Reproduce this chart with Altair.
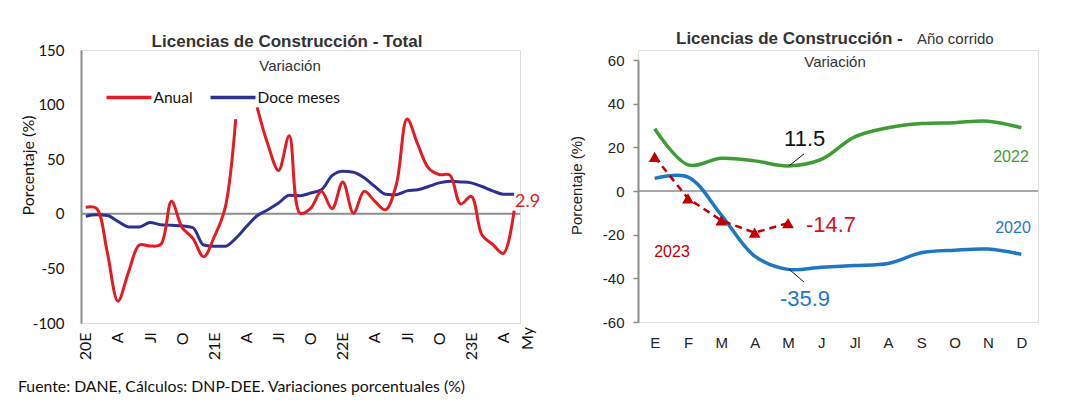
import altair as alt
import pandas as pd

# ---------------- Left panel data (monthly, Jan-2020 .. May-2023) ----------------
anual = [6, 5, -35, -80, -53, -28.6, -29.5, -28, 11.4, -12.6, -22.5, -39.4, -21, 5, 86.8,
         None, 97.5, 63.7, 39.7, 71.4, 0.6, 5, 20.6, 4.6, 29.2, 0.6, 20.6, 11.4, 3.7, 26.8,
         86.8, 63.7, 42, 36, 35.4, 9, 16, -19.4, -28, -36.3, 2.9]
doce_meses = [-2.2, -0.9, -1.5, -7, -12, -12, -8, -10, -10.5, -11, -12.6, -28.6, -29.8, -29.8,
              -22.5, -11.7, -1.8, 3.7, 9.8, 16.9, 16.6, 19, 22, 35, 39, 38, 33, 25, 18, 17.5,
              21, 22, 25, 28.3, 29.8, 29.2, 28.3, 25, 21, 18, 18]
left_tick_labels = ["20E", "A", "Jl", "O", "21E", "A", "Jl", "O", "22E", "A", "Jl", "O", "23E", "A"]
series_names = ["Anual", "Doce meses"]

# ---------------- Right panel data (año corrido) ----------------
month_labels = ["E", "F", "M", "A", "M", "J", "Jl", "A", "S", "O", "N", "D"]
y2022 = [28.5, 12, 15, 13.8, 11.5, 14.5, 24.8, 29, 30.9, 31.3, 32, 29]
y2020 = [5.8, 6.4, -11, -29.8, -35.9, -34.9, -34.1, -33.2, -28.3, -27.1, -26.6, -29]
y2023 = [15.6, -3.4, -13.5, -19.1, -14.7]

RED = "#e31b23"
NAVY = "#2e3192"
GREEN = "#3f9c35"
BLUE = "#1f77c4"
DRED = "#c00000"
GRAY = "#8c8c8c"

# ---------------- build tables ----------------
red_rows = []
for i, v in enumerate(anual):
    if v is None:
        continue
    red_rows.append({"m": i, "v": v, "serie": "Anual", "seg": "a" if i < 15 else "b"})
df_red = pd.DataFrame(red_rows)
df_blue = pd.DataFrame({"m": list(range(len(doce_meses))), "v": doce_meses, "serie": "Doce meses"})

W1, H1 = 439, 273
lab_expr = "[" + ",".join("'%s'" % s for s in left_tick_labels) + "][round(datum.value/3)]"

lx = alt.X("m:Q", scale=alt.Scale(domain=[-0.45, 40.55], nice=False, zero=False),
           axis=alt.Axis(values=list(range(0, 40, 3)), labelExpr=lab_expr, labelAngle=270,
                         labelAlign="right", labelBaseline="middle", labelPadding=9,
                         ticks=False, tickSize=0, domain=False, grid=False, labelOverlap=False,
                         labelFont="Lato", labelFontSize=16, labelColor="#111", title=None))
ly = alt.Y("v:Q", scale=alt.Scale(domain=[-100, 150], nice=False),
           axis=alt.Axis(values=[-100, -50, 0, 50, 100, 150], ticks=False, tickSize=0,
                         labelExpr="'' + datum.value", labelOverlap=False,
                         domainColor=GRAY, domainWidth=2, grid=False, labelFont="Lato",
                         labelFontSize=15, labelColor="#111", labelPadding=17,
                         title="Porcentaje (%)", titleFont="Lato", titleFontSize=16,
                         titleFontWeight="normal", titleColor="#111", titleX=-53, titleY=115,
                         titleAngle=270, titleBaseline="middle", titleAlign="center"))
color = alt.Color("serie:N", scale=alt.Scale(domain=series_names, range=[RED, NAVY]),
                  legend=alt.Legend(orient="none", legendX=23.5, legendY=23, direction="horizontal",
                                    title=None, symbolType="stroke", symbolSize=2025,
                                    symbolStrokeWidth=3.5, labelFont="Lato", labelFontSize=15.5,
                                    labelColor="#111", labelOffset=0, columnPadding=10, padding=0))

zero_l = alt.Chart(pd.DataFrame({"m": [0], "v": [0]})).mark_rule(color=GRAY, strokeWidth=2).encode(y=ly)
blue_line = alt.Chart(df_blue).mark_line(interpolate="monotone", strokeWidth=3).encode(x=lx, y=ly, color=color)
red_line = alt.Chart(df_red).mark_line(interpolate="catmull-rom", strokeWidth=3).encode(
    x=lx, y=ly, color=color, detail="seg:N")
last_lab = alt.Chart(pd.DataFrame({"m": [40], "v": [anual[-1]], "t": [str(anual[-1])]})).mark_text(
    align="left", baseline="middle", dx=1, dy=-9, font="Lato", fontSize=18, color=RED).encode(
    x=lx, y=ly, text="t:N")
my_lab = alt.Chart(pd.DataFrame({"m": [41.3], "t": ["My"]})).mark_text(
    angle=270, align="right", baseline="middle", font="Lato", fontSize=16, color="#111").encode(
    x=lx, y=alt.value(H1 + 4), text="t:N")
title_l = alt.Chart(pd.DataFrame({"t": ["Licencias de Construcción - Total"]})).mark_text(
    font="Liberation Sans", fontWeight="bold", fontSize=17, color="#333", baseline="alphabetic").encode(
    x=alt.value(206), y=alt.value(-3), text="t:N")
sub_l = alt.Chart(pd.DataFrame({"t": ["Variación"]})).mark_text(
    font="Liberation Sans", fontSize=15, color="#333", baseline="alphabetic").encode(
    x=alt.value(209), y=alt.value(20.5), text="t:N")
footer = alt.Chart(pd.DataFrame({"t": ["Fuente: DANE, Cálculos: DNP-DEE. Variaciones porcentuales (%)"]})).mark_text(
    font="Lato", fontSize=15.8, color="#111", align="left", baseline="middle").encode(
    x=alt.value(-63), y=alt.value(337), text="t:N")

left = alt.layer(zero_l, blue_line, red_line, last_lab, my_lab, title_l, sub_l, footer).properties(
    width=W1, height=H1)

# ---------------- right panel ----------------
W2, H2 = 400, 272
rlab_expr = "[" + ",".join("'%s'" % s for s in month_labels) + "][round(datum.value)]"
rx = alt.X("i:Q", scale=alt.Scale(domain=[-0.5, 11.5], nice=False, zero=False),
           axis=alt.Axis(values=list(range(12)), labelExpr=rlab_expr, ticks=False, tickSize=0,
                         domain=False, grid=False, labelPadding=13, labelFont="Liberation Sans",
                         labelFontSize=15, labelColor="#222", labelAngle=0, labelOverlap=False,
                         title=None))
ry = alt.Y("v:Q", scale=alt.Scale(domain=[-60, 60], range=[272, 10], nice=False),
           axis=alt.Axis(values=[-60, -40, -20, 0, 20, 40, 60], tickSize=5, tickColor=GRAY,
                         labelExpr="'' + datum.value", labelOverlap=False,
                         tickWidth=1.5, domainColor=GRAY, domainWidth=2, labelPadding=9,
                         labelFont="Liberation Sans", labelFontSize=15, labelColor="#222",
                         grid=False, title="Porcentaje (%)", titleFont="Liberation Sans",
                         titleFontSize=15, titleFontWeight="normal", titleColor="#222",
                         titleX=-62, titleY=135, titleAngle=270, titleBaseline="middle",
                         titleAlign="center"))

df22 = pd.DataFrame({"i": list(range(12)), "v": y2022})
df20 = pd.DataFrame({"i": list(range(12)), "v": y2020})
df23 = pd.DataFrame({"i": list(range(len(y2023))), "v": y2023})

zero_r = alt.Chart(pd.DataFrame({"i": [0], "v": [0]})).mark_rule(color=GRAY, strokeWidth=1.5).encode(y=ry)
g22 = alt.Chart(df22).mark_line(interpolate="catmull-rom", strokeWidth=3.5, color=GREEN).encode(x=rx, y=ry)
b20 = alt.Chart(df20).mark_line(interpolate="catmull-rom", strokeWidth=3.5, color=BLUE).encode(x=rx, y=ry)
r23 = alt.Chart(df23).mark_line(strokeWidth=2.5, color=DRED, strokeDash=[7, 5]).encode(x=rx, y=ry)
r23p = alt.Chart(df23).mark_point(shape="triangle-up", filled=True, size=140, color=DRED, opacity=1).encode(x=rx, y=ry)

ann = pd.DataFrame({
    "i": [4.5, 5.29, 4.51, 10.69, 10.75, 0.52],
    "v": [23.8, -15.8, -49.5, 15.6, -17, -28],
    "t": ["11.5", "-14.7", "-35.9", "2022", "2020", "2023"],
    "c": ["#111", "#dd1018", BLUE, GREEN, BLUE, DRED],
    "s": [22, 22, 22, 16, 16, 16],
})
ann_t = alt.Chart(ann).mark_text(font="Liberation Sans", baseline="middle", align="center").encode(
    x=rx, y=ry, text="t:N",
    color=alt.Color("c:N", scale=None), size=alt.Size("s:Q", scale=None))
leaders = pd.DataFrame({"i": [4.03, 4.03], "v": [11.5, -35.8], "i2": [4.48, 4.48], "v2": [17, -41.7]})
lead = alt.Chart(leaders).mark_rule(color="#111", strokeWidth=1).encode(
    x=rx, x2="i2:Q", y=ry, y2="v2:Q")

title_r = alt.Chart(pd.DataFrame({"t": ["Licencias de Construcción -"]})).mark_text(
    font="Liberation Sans", fontWeight="bold", fontSize=17, color="#333", align="left",
    baseline="alphabetic").encode(x=alt.value(38), y=alt.value(-6), text="t:N")
title_r2 = alt.Chart(pd.DataFrame({"t": ["Año corrido"]})).mark_text(
    font="Liberation Sans", fontSize=15, color="#333", align="left",
    baseline="alphabetic").encode(x=alt.value(279), y=alt.value(-6), text="t:N")
sub_r = alt.Chart(pd.DataFrame({"t": ["Variación"]})).mark_text(
    font="Liberation Sans", fontSize=15, color="#333", baseline="alphabetic").encode(
    x=alt.value(197), y=alt.value(16.5), text="t:N")

right = alt.layer(zero_r, g22, b20, r23, r23p, lead, ann_t, title_r, title_r2, sub_r).properties(
    width=W2, height=H2)

chart = alt.hconcat(left, right, spacing=118, bounds="flush").properties(
    padding={"left": 9, "top": 21, "right": 10, "bottom": 5}
).configure_view(stroke=None).configure_axis(labelOverlap=False).configure(font="Liberation Sans")

chart.save("out.html", embed_options={"renderer": "svg", "actions": False})
